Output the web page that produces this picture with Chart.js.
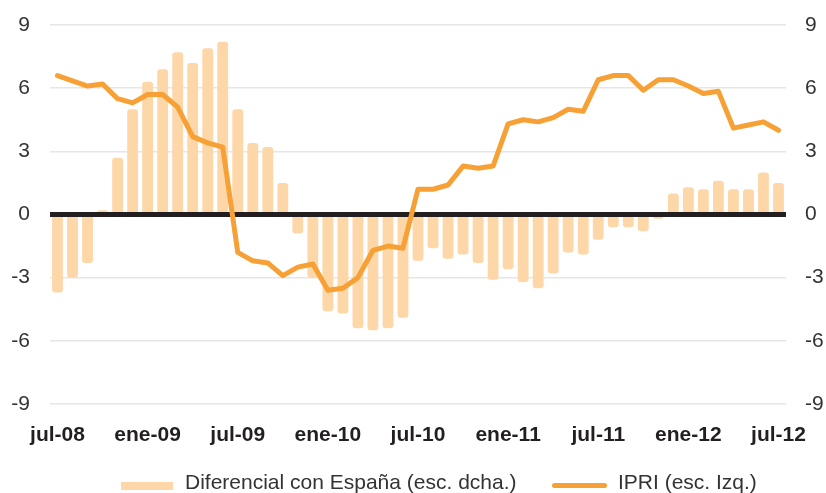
<!DOCTYPE html>
<html lang="es">
<head>
<meta charset="utf-8">
<title>IPRI y diferencial con España</title>
<script src="https://cdn.jsdelivr.net/npm/chart.js@4/dist/chart.umd.min.js"></script>
<style>
    body { margin: 0; background: #fff; }
    #caixa { position: relative; width: 826px; height: 493px; }
    #grafica { position: absolute; left: 0; top: 0; }
    .llegenda { position: absolute; font-family: "Liberation Sans", Arial, sans-serif;
        font-size: 21px; line-height: 21px; color: #333; white-space: nowrap; }
    .mostra { position: absolute; }
</style>
</head>
<body>
<div id="caixa">
    <canvas id="grafica" width="826" height="493"></canvas>
    <div class="mostra" style="left:121px; top:482px; width:52px; height:8px; background:#fdd7a8;"></div>
    <div class="llegenda" style="left:185px; top:471px;">Diferencial con España (esc. dcha.)</div>
    <div class="mostra" style="left:552px; top:483px; width:55px; height:5px; border-radius:3px; background:#f7a035;"></div>
    <div class="llegenda" style="left:618px; top:471px;">IPRI (esc. Izq.)</div>
</div>
<script>
// Mesos (jul-08 a jul-12)
const mesos = [
    'jul-08', 'ago-08', 'sep-08', 'oct-08', 'nov-08', 'dic-08',
    'ene-09', 'feb-09', 'mar-09', 'abr-09', 'may-09', 'jun-09',
    'jul-09', 'ago-09', 'sep-09', 'oct-09', 'nov-09', 'dic-09',
    'ene-10', 'feb-10', 'mar-10', 'abr-10', 'may-10', 'jun-10',
    'jul-10', 'ago-10', 'sep-10', 'oct-10', 'nov-10', 'dic-10',
    'ene-11', 'feb-11', 'mar-11', 'abr-11', 'may-11', 'jun-11',
    'jul-11', 'ago-11', 'sep-11', 'oct-11', 'nov-11', 'dic-11',
    'ene-12', 'feb-12', 'mar-12', 'abr-12', 'may-12', 'jun-12',
    'jul-12'
];

// Diferencial con España (escala dreta)
const diferencial = [
    -3.7, -3.0, -2.3, 0.2, 2.7, 5.0,
    6.3, 6.9, 7.7, 7.2, 7.9, 8.2,
    5.0, 3.4, 3.2, 1.5, -0.9, -3.0,
    -4.6, -4.7, -5.4, -5.5, -5.4, -4.9,
    -2.2, -1.6, -2.1, -1.9, -2.3, -3.1,
    -2.6, -3.2, -3.5, -2.8, -1.8, -1.9,
    -1.2, -0.6, -0.6, -0.8, -0.2, 1.0,
    1.3, 1.2, 1.6, 1.2, 1.2, 2.0,
    1.5
];

// IPRI (escala esquerra)
const ipri = [
    6.6, 6.35, 6.1, 6.2, 5.5, 5.3,
    5.7, 5.7, 5.1, 3.7, 3.4, 3.2,
    -1.8, -2.2, -2.3, -2.9, -2.5, -2.35,
    -3.6, -3.5, -3.0, -1.7, -1.5, -1.6,
    1.2, 1.2, 1.4, 2.3, 2.2, 2.3,
    4.3, 4.5, 4.4, 4.6, 5.0, 4.9,
    6.4, 6.6, 6.6, 5.9, 6.4, 6.4,
    6.1, 5.75, 5.85, 4.1, 4.25, 4.4,
    4.0
];

const etiquetesEix = ['jul-08', 'ene-09', 'jul-09', 'ene-10', 'jul-10', 'ene-11', 'jul-11', 'ene-12', 'jul-12'];

const font = 'Liberation Sans, Arial, sans-serif';

// Línia del zero, dibuixada damunt de les barres
const liniaZero = {
    id: 'liniaZero',
    afterDatasetDraw(chart, args) {
        if (args.meta.type !== 'bar') return;
        const ctx = chart.ctx;
        const y = chart.scales.y.getPixelForValue(0);
        ctx.save();
        ctx.strokeStyle = '#231f20';
        ctx.lineWidth = 5;
        ctx.beginPath();
        ctx.moveTo(chart.chartArea.left, y);
        ctx.lineTo(chart.chartArea.right, y);
        ctx.stroke();
        ctx.restore();
    }
};

function ajustaEixY(amplada) {
    return function (scale) {
        scale.width = amplada;
        scale.paddingTop = 0;
        scale.paddingBottom = 0;
    };
}

const graph = document.querySelector('#grafica');

new Chart(graph, {
    data: {
        labels: mesos,
        datasets: [{
            type: 'bar',
            label: 'Diferencial con España (esc. dcha.)',
            data: diferencial,
            yAxisID: 'y1',
            backgroundColor: '#fdd7a8',
            barPercentage: 0.72,
            categoryPercentage: 1,
            borderRadius: 3,
            borderSkipped: false,
            order: 2
        }, {
            type: 'line',
            label: 'IPRI (esc. Izq.)',
            data: ipri,
            yAxisID: 'y',
            borderColor: '#f7a035',
            borderWidth: 5,
            pointRadius: 0,
            tension: 0,
            borderJoinStyle: 'round',
            borderCapStyle: 'round',
            order: 1
        }]
    },
    options: {
        responsive: false,
        animation: false,
        layout: { padding: { top: 25, bottom: 29, left: 0, right: 0 } },
        plugins: {
            legend: { display: false },
            tooltip: { enabled: false }
        },
        scales: {
            x: {
                offset: true,
                grid: { display: false },
                border: { display: false },
                ticks: {
                    autoSkip: false,
                    maxRotation: 0,
                    padding: 11,
                    color: '#231f20',
                    font: { family: font, size: 21, weight: 'bold' },
                    callback: function (val, i) {
                        const m = mesos[i];
                        return etiquetesEix.includes(m) ? m : '';
                    }
                },
                afterFit: function (scale) { scale.height = 60; }
            },
            y: {
                position: 'left',
                min: -9,
                max: 9,
                border: { display: false },
                grid: {
                    drawTicks: false,
                    lineWidth: 1.5,
                    color: function (c) { return c.tick.value === 0 ? 'rgba(0,0,0,0)' : '#e6e6e6'; }
                },
                ticks: {
                    stepSize: 3,
                    padding: 20,
                    color: '#333',
                    font: { family: font, size: 21 }
                },
                afterFit: ajustaEixY(50)
            },
            y1: {
                position: 'right',
                min: -9,
                max: 9,
                border: { display: false },
                grid: { display: false, drawTicks: false },
                ticks: {
                    stepSize: 3,
                    padding: 19,
                    color: '#333',
                    font: { family: font, size: 21 }
                },
                afterFit: ajustaEixY(40)
            }
        }
    },
    plugins: [liniaZero]
});
</script>
</body>
</html>
